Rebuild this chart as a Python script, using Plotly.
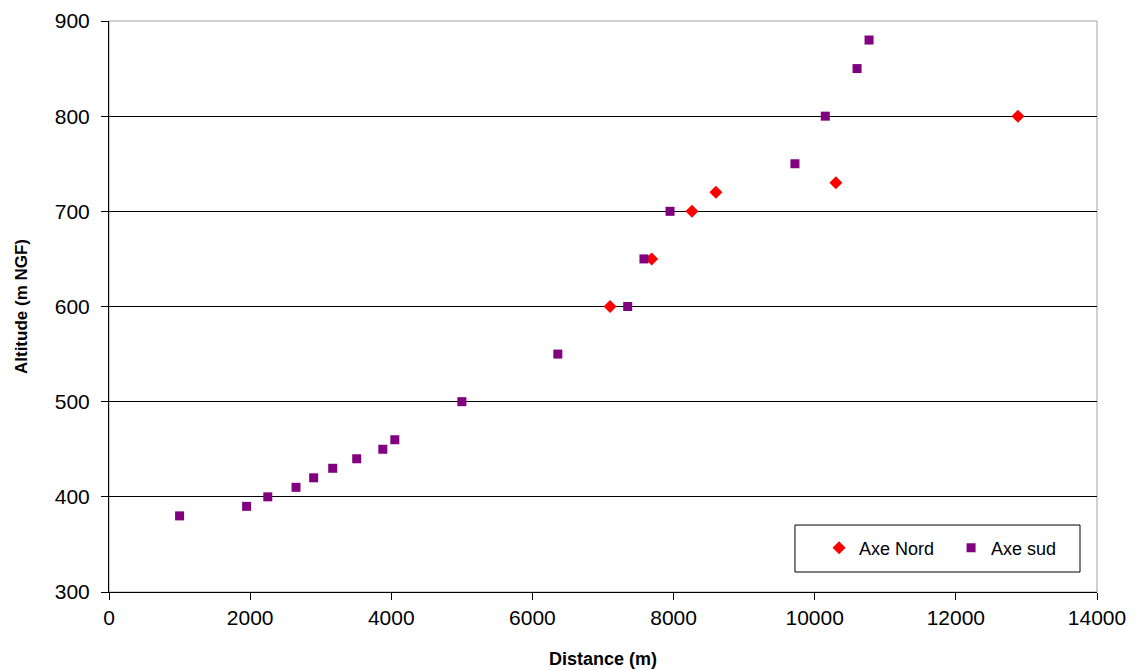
import plotly.graph_objects as go

# Axe sud
sud_distance = [1000, 1950, 2250, 2650, 2900, 3170, 3510, 3880, 4050, 5000, 6360, 7350, 7580, 7950, 9720, 10150, 10600, 10770]
sud_altitude = [380, 390, 400, 410, 420, 430, 440, 450, 460, 500, 550, 600, 650, 700, 750, 800, 850, 880]

# Axe Nord
nord_distance = [7100, 7690, 8260, 8600, 10300, 12880]
nord_altitude = [600, 650, 700, 720, 730, 800]

x_ticks = [0, 2000, 4000, 6000, 8000, 10000, 12000, 14000]
y_ticks = [300, 400, 500, 600, 700, 800, 900]

fig = go.Figure()
fig.add_trace(go.Scatter(
    x=nord_distance, y=nord_altitude, mode="markers", name="Axe Nord",
    marker=dict(symbol="diamond", size=10, color="#ff0000"),
))
fig.add_trace(go.Scatter(
    x=sud_distance, y=sud_altitude, mode="markers", name="Axe sud",
    marker=dict(symbol="square", size=9, color="#800080"),
))

font_family = "Liberation Sans, Arial, sans-serif"

fig.update_layout(
    width=1128, height=662,
    margin=dict(l=101, r=39, t=13, b=78, autoexpand=False),
    paper_bgcolor="white", plot_bgcolor="white",
    font=dict(family=font_family, color="#000000"),
    showlegend=True,
    legend=dict(
        orientation="h",
        x=0.7187, y=0.077, xanchor="left", yanchor="middle",
        bgcolor="rgba(0,0,0,0)", borderwidth=0,
        font=dict(size=18, family=font_family, color="#000000"),
        entrywidth=87, itemwidth=30,
        traceorder="normal",
    ),
    xaxis=dict(
        range=[0, 14000], tickvals=x_ticks, ticktext=[str(v) for v in x_ticks],
        showgrid=False, zeroline=False, automargin=False,
        showline=True, linecolor="#000000", linewidth=1,
        ticks="outside", ticklen=7, tickcolor="#000000",
        tickfont=dict(size=21, family=font_family, color="#000000"),
        title=dict(text="<b>Distance (m)</b>", font=dict(size=18, family=font_family), standoff=24),
    ),
    yaxis=dict(
        range=[300, 900], tickvals=y_ticks, ticktext=[str(v) for v in y_ticks],
        showgrid=True, gridcolor="#000000", gridwidth=1,
        zeroline=False, automargin=False,
        showline=True, linecolor="#000000", linewidth=1,
        ticks="outside", ticklen=7, tickcolor="#000000",
        ticklabelstandoff=7,
        tickfont=dict(size=21, family=font_family, color="#000000"),
        title=dict(text="<b>Altitude (m NGF)</b>", font=dict(size=17, family=font_family), standoff=22),
    ),
    shapes=[
        dict(type="rect", xref="paper", yref="paper", x0=0, x1=1, y0=0, y1=1,
             line=dict(color="#a0a0a0", width=1), layer="between"),
        dict(type="rect", xref="paper", yref="paper", x0=0.6943, x1=0.9828, y0=0.035, y1=0.1173,
             line=dict(color="#000000", width=1), fillcolor="white", layer="above"),
    ],
)

fig.write_html("out.html")
